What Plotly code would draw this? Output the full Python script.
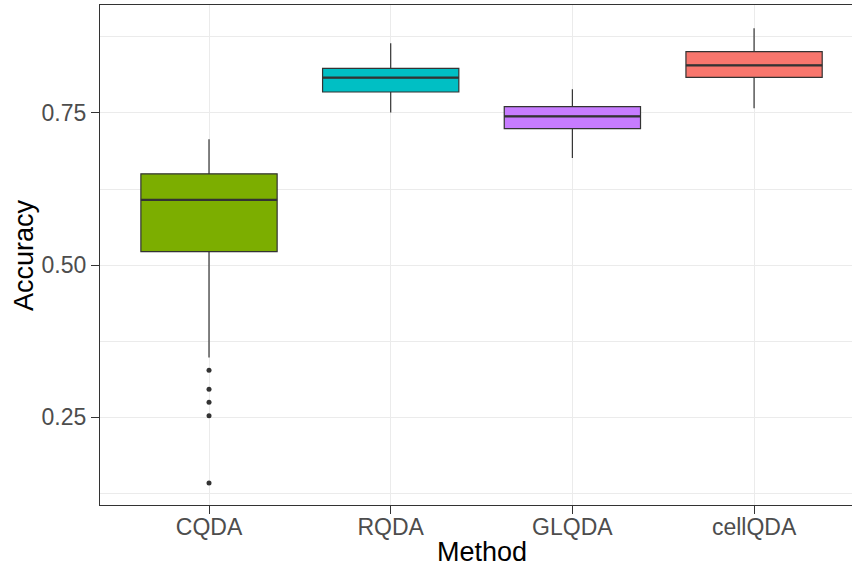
import plotly.graph_objects as go

# Classification accuracy per method (box-plot summary statistics)
methods = ["CQDA", "RQDA", "GLQDA", "cellQDA"]
colors = ["#7CAE00", "#00BFC4", "#C77CFF", "#F8766D"]
lower_whisker = [0.348, 0.751, 0.676, 0.758]
q1 = [0.522, 0.7845, 0.7242, 0.8087]
median = [0.607, 0.8081, 0.7445, 0.8284]
q3 = [0.650, 0.8235, 0.7604, 0.8509]
upper_whisker = [0.7067, 0.8646, 0.789, 0.8893]

# Points beyond the whiskers
outlier_method = ["CQDA", "CQDA", "CQDA", "CQDA", "CQDA"]
outlier_value = [0.3268, 0.2955, 0.2742, 0.2521, 0.1414]

BOX_W = 0.75
DARK = "#333333"
FONT = "Liberation Sans, Arial, sans-serif"

fig = go.Figure()

for i, m in enumerate(methods):
    fig.add_trace(go.Box(
        x=[i],
        q1=[q1[i]], median=[median[i]], q3=[q3[i]],
        lowerfence=[lower_whisker[i]], upperfence=[upper_whisker[i]],
        width=BOX_W,
        whiskerwidth=0,
        fillcolor=colors[i],
        line=dict(color=DARK, width=1.2),
        boxpoints=False,
        name=m,
        showlegend=False,
        hoverinfo="skip",
    ))
    # thicker median bar
    fig.add_trace(go.Scatter(
        x=[i - BOX_W / 2, i + BOX_W / 2],
        y=[median[i], median[i]],
        mode="lines",
        line=dict(color=DARK, width=2.2),
        showlegend=False,
        hoverinfo="skip",
    ))

fig.add_trace(go.Scatter(
    x=[methods.index(m) for m in outlier_method],
    y=outlier_value,
    mode="markers",
    marker=dict(color=DARK, size=5),
    showlegend=False,
    hoverinfo="skip",
))

fig.update_layout(
    width=852, height=565,
    margin=dict(l=100, r=0, t=5, b=60),
    paper_bgcolor="white",
    plot_bgcolor="white",
    boxmode="overlay",
    font=dict(family=FONT, color="#4D4D4D", size=23),
    xaxis=dict(
        range=[-0.6, 3.539],
        tickvals=list(range(len(methods))),
        ticktext=methods,
        showgrid=True, gridcolor="#EBEBEB", gridwidth=1.2,
        showline=True, linecolor=DARK, linewidth=1.2, mirror=True,
        ticks="outside", ticklen=8, tickcolor=DARK, tickwidth=1.2,
        tickfont=dict(size=23, color="#4D4D4D"),
        ticklabelstandoff=-7,
        zeroline=False,
    ),
    yaxis=dict(
        range=[0.1053, 0.9276],
        tickvals=[0.25, 0.5, 0.75],
        ticktext=["0.25", "0.50", "0.75"],
        showgrid=True, gridcolor="#EBEBEB", gridwidth=1.2,
        minor=dict(tickvals=[0.125, 0.375, 0.625, 0.875],
                   showgrid=True, gridcolor="#EBEBEB", gridwidth=0.6),
        showline=True, linecolor=DARK, linewidth=1.2, mirror=False,
        ticks="outside", ticklen=8, tickcolor=DARK, tickwidth=1.2,
        tickfont=dict(size=23, color="#4D4D4D"),
        zeroline=False,
    ),
    annotations=[
        dict(text="Method", xref="x", yref="paper", x=1.5, y=-0.094,
             xanchor="center", yanchor="middle", showarrow=False,
             font=dict(family=FONT, size=27, color="black")),
        dict(text="Accuracy", xref="paper", yref="paper", x=-0.101, y=0.5,
             xanchor="center", yanchor="middle", textangle=-90, showarrow=False,
             font=dict(family=FONT, size=27, color="black")),
    ],
)

fig.write_html("out.html")
